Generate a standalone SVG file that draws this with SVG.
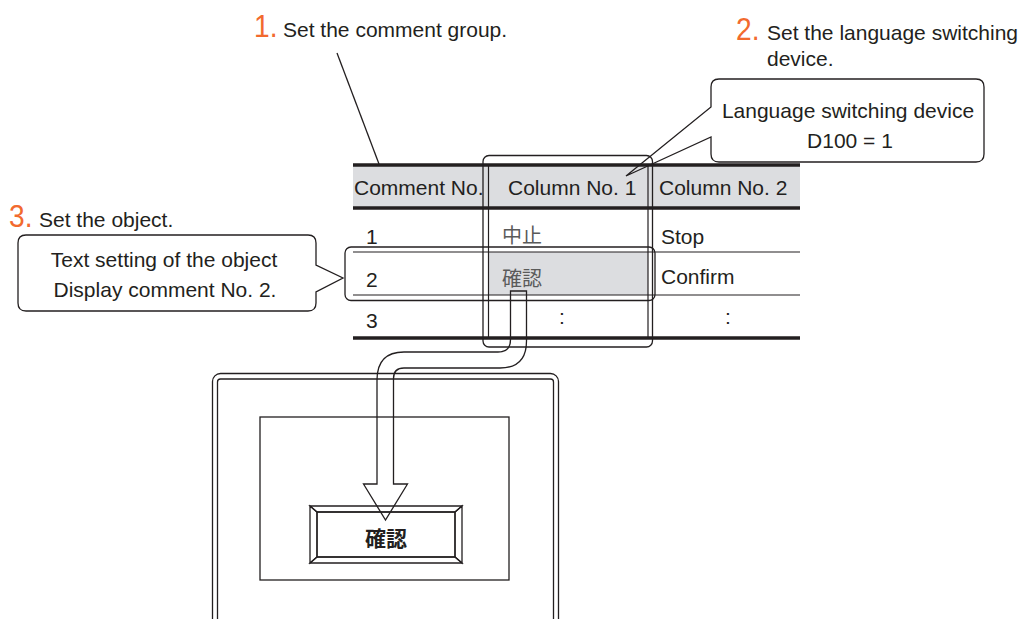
<svg xmlns="http://www.w3.org/2000/svg" width="1023" height="619" viewBox="0 0 1023 619">
<style>
text{font-family:"Liberation Sans",Arial,"Noto Sans CJK JP",sans-serif;font-size:21px;fill:#231f20}
.num{font-size:32px;fill:#f26a2e}
.cjk{font-family:"Noto Sans CJK JP","Noto Sans CJK SC",sans-serif;font-size:20px;fill:#5a5a5a}
.thin{stroke:#231f20;stroke-width:1.2;fill:none}
.thick{stroke:#231f20;stroke-width:3.5;fill:none}
.ln{stroke:#231f20;stroke-width:1.3;fill:none}
.gray{fill:#dcdde0}
</style>

<g id="label1">
<text class="num" x="254" y="37" transform="translate(254 37) scale(0.88 1) translate(-254 -37)">1.</text>
<text x="283" y="37">Set the comment group.</text>
</g>
<g id="label2">
<text class="num" x="736" y="40" transform="translate(736 40) scale(0.88 1) translate(-736 -40)">2.</text>
<text x="767" y="40">Set the language switching</text>
<text x="767" y="66">device.</text>
</g>
<g id="label3">
<text class="num" x="9" y="227" transform="translate(9 227) scale(0.88 1) translate(-9 -227)">3.</text>
<text x="39" y="227">Set the object.</text>
</g>

<g id="table">
<rect class="gray" x="353" y="165" width="447" height="43"/>
<rect class="gray" x="488.5" y="252" width="159.5" height="43"/>
<line class="thin" x1="353" y1="252" x2="800" y2="252"/>
<line class="thin" x1="353" y1="295" x2="800" y2="295"/>
<line class="thin" x1="488.5" y1="165" x2="488.5" y2="338"/>
<line class="thin" x1="648" y1="165" x2="648" y2="338"/>
<line class="thick" x1="353" y1="165" x2="800" y2="165"/>
<line class="thick" x1="353" y1="208" x2="800" y2="208"/>
<line class="thick" x1="353" y1="338" x2="800" y2="338"/>
<text x="354" y="195">Comment No.</text>
<text x="508" y="195">Column No. 1</text>
<text x="659" y="195">Column No. 2</text>
<text x="366" y="244">1</text>
<text class="cjk" x="502" y="243">中止</text>
<text x="661" y="244">Stop</text>
<text x="366" y="287">2</text>
<text class="cjk" x="502" y="286">確認</text>
<text x="661" y="284">Confirm</text>
<text x="366" y="328">3</text>
<text x="559" y="324">:</text>
<text x="725" y="324">:</text>
</g>

<g id="column1-highlight">
<rect class="ln" x="483" y="155.5" width="169.5" height="191.5" rx="6"/>
</g>
<g id="row2-highlight">
<rect class="ln" x="345" y="247" width="310" height="53.5" rx="6"/>
</g>

<g id="callout2">
<path class="ln" d="M719,79 H976 Q984,79 984,87 V154 Q984,162 976,162 H719 Q711,162 711,154 V137 L626,176 L711,107 V87 Q711,79 719,79 Z"/>
<text x="848" y="118" text-anchor="middle">Language switching device</text>
<text x="850" y="148" text-anchor="middle">D100 = 1</text>
</g>

<g id="callout3">
<path class="ln" d="M26,235 H308 Q316,235 316,243 V265 L343,278 L316,292 V303 Q316,311 308,311 H26 Q18,311 18,303 V243 Q18,235 26,235 Z"/>
<text x="164" y="267" text-anchor="middle">Text setting of the object</text>
<text x="165" y="297" text-anchor="middle">Display comment No. 2.</text>
</g>

<g id="screen">
<rect class="ln" x="212.5" y="373.5" width="346" height="300" rx="8"/>
<rect class="ln" x="217.5" y="379" width="336" height="300" rx="3"/>
<rect class="ln" x="260" y="417" width="249" height="163" fill="#fff"/>
</g>

<g id="button">
<polygon class="ln" points="310,506 462,506 455,512 317,512" fill="#fff"/>
<polygon class="ln" points="310,506 317,512 317,557 310,563" fill="#fff"/>
<polygon class="ln" points="462,506 462,563 455,557 455,512" fill="#c6c7c9"/>
<polygon class="ln" points="310,563 462,563 455,557 317,557" fill="#c6c7c9"/>
<rect class="ln" x="317" y="512" width="138" height="45" fill="#fff"/>
<text x="386" y="546" text-anchor="middle" style="font-family:'Noto Sans CJK JP','Noto Sans CJK SC',sans-serif;font-weight:bold;font-size:21px">確認</text>
</g>

<g id="connectors">
<line class="ln" x1="337" y1="53" x2="379" y2="164"/>
<path class="ln" fill="#fff" d="M510.5,291 H526.5 V341 C526.5,358 518,368 500,368 H404 Q393.5,368 393.5,378.5 V484 H407.5 L385.5,520 L363.5,484 H377 V380 C377,362 386,352 404,352 H498 Q510.5,352 510.5,339.5 Z"/>
</g>
</svg>
